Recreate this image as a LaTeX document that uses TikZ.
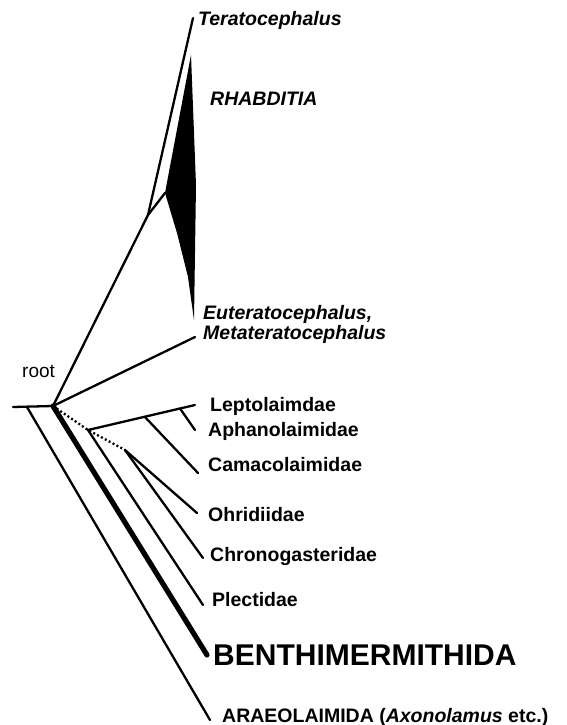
\documentclass[tikz,border=0pt]{standalone}
\usepackage{fontspec}
\setmainfont{Liberation Sans}
\usepackage{tikz}
\usetikzlibrary{positioning,calc}

\begin{document}
\begin{tikzpicture}[
  x=1pt, y=-1pt,
  font=\bfseries\fontsize{19.5}{22}\selectfont,
  taxon/.style={anchor=base west, inner sep=0pt},
  branch/.style={line width=2.3pt, line cap=round},
  stem/.style={line width=5.2pt, line cap=round},
  dotbranch/.style={line width=2.3pt, dash pattern=on 2pt off 2.4pt}
]
\useasboundingbox (0,0) rectangle (566,725);
% inner nodes of the tree
\coordinate (base) at (13,407);
\coordinate (araeo) at (27,407);
\coordinate (root) at (53,406);
\coordinate (tera) at (148,215);
\coordinate (rhab) at (165,193);
\coordinate (lept) at (88,430);
\coordinate (ohri) at (125,450);
% tips
\coordinate (teraT) at (193,18);
\coordinate (rhabtop) at (191,55);
\coordinate (rhabT) at (194,320);
\coordinate (metaT) at (195,337);
\coordinate (leptT) at (195,405);
\coordinate (aphaT) at (195,430);
\coordinate (camaT) at (198,473);
\coordinate (ohriT) at (197,513);
\coordinate (chroT) at (203,558);
\coordinate (pleT) at (203,605);
\coordinate (bentT) at (207,655);
\coordinate (araeT) at (210,720);
\coordinate (apha) at ($(lept)!0.86!(leptT)$);
\coordinate (cama) at ($(lept)!0.53!(leptT)$);

% labels
\node[taxon, font=\mdseries\fontsize{19}{21}\selectfont] (rootlbl) at (22,377) {root};
\node[taxon] (teralbl) at (198,26) {\itshape Teratocephalus};
\node[taxon] (rhablbl) at (210,105) {\itshape RHABDITIA};
\node[taxon] (eutelbl) at (203,319) {\itshape Euteratocephalus,};
\node[taxon] (metalbl) at (203,339) {\itshape Metateratocephalus};
\node[taxon] (leptlbl) at (210,411) {Leptolaimdae};
\node[taxon] (aphalbl) at (208,436) {Aphanolaimidae};
\node[taxon] (camalbl) at (208,471) {Camacolaimidae};
\node[taxon] (ohrilbl) at (208,521) {Ohridiidae};
\node[taxon] (chrolbl) at (210,561) {Chronogasteridae};
\node[taxon] (plelbl) at (212,606) {Plectidae};
\node[taxon, font=\bfseries\fontsize{30}{32}\selectfont] (bentlbl) at (213,665) {BENTHIMERMITHIDA};
\node[taxon] (araelbl) at (222,722) {ARAEOLAIMIDA (\textit{Axonolamus} etc.)};

% branches
\fill (rhab) -- (rhabtop) -- (196,185) -- (rhabT) -- (188,277) -- (177,233) -- cycle;
\draw[branch] (base) -- (root);
\draw[branch] (araeo) -- (araeT);
\draw[stem] (root) -- (bentT);
\draw[branch] (root) -- (tera) -- (rhab);
\draw[branch] (tera) -- (teraT);
\draw[branch] (root) -- (metaT);
\draw[dotbranch] (root) -- (lept) -- (ohri);
\draw[branch] (lept) -- (leptT);
\draw[branch] (apha) -- (aphaT);
\draw[branch] (cama) -- (camaT);
\draw[branch] (lept) -- (pleT);
\draw[branch] (ohri) -- (ohriT);
\draw[branch] (ohri) -- (chroT);
\end{tikzpicture}
\end{document}
